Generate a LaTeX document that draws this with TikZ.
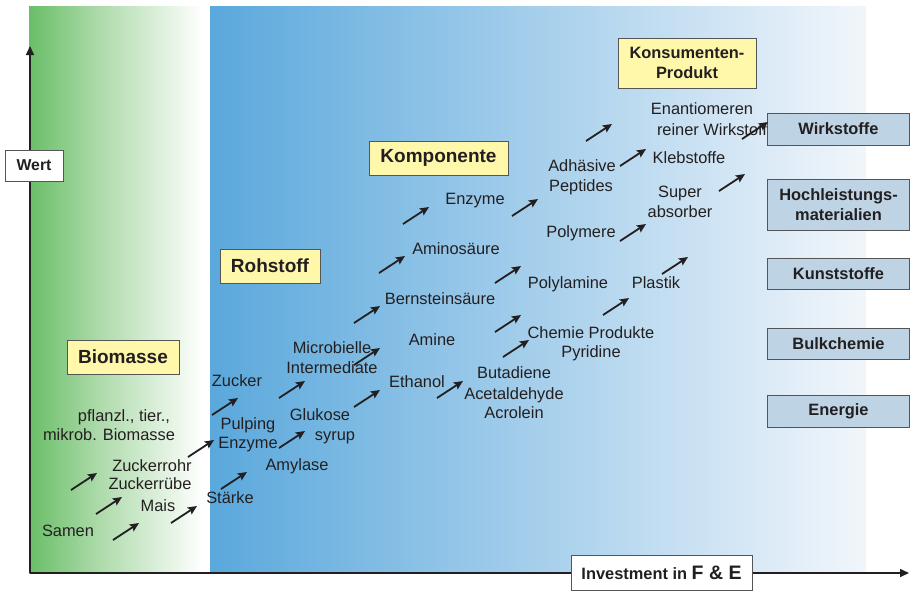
\documentclass[tikz,border=0pt]{standalone}
\usepackage{fontspec}
\setmainfont{Liberation Sans}
\usetikzlibrary{arrows.meta}
\definecolor{gA}{RGB}{106,190,104}
\definecolor{gB}{RGB}{172,218,169}
\definecolor{bA}{RGB}{90,168,220}
\definecolor{bB}{RGB}{242,246,251}
\definecolor{ylw}{RGB}{255,247,170}
\definecolor{rbx}{RGB}{190,212,228}
\definecolor{brd}{RGB}{85,85,85}
\definecolor{tc}{RGB}{35,31,32}
\begin{document}
\begin{tikzpicture}[x=1pt,y=-1pt,
  t/.style={anchor=base, inner sep=0pt, text=tc, font=\fontsize{16.4}{20}\selectfont},
  ybox/.style={draw=brd, line width=0.9pt, fill=ylw, text=tc, inner sep=0pt, align=center},
  rbox/.style={draw=brd, line width=0.9pt, fill=rbx, text=tc, inner sep=0pt, align=center,
    minimum width=142pt, font=\bfseries\fontsize{16.4}{20}\selectfont},
  wbox/.style={draw=brd, line width=0.9pt, fill=white, text=tc, inner sep=0pt},
  axisline/.style={draw=tc, line width=1.5pt, -{Triangle[length=9pt,width=8pt]}},
  sarr/.style={draw=tc, line width=1.8pt, -{Stealth[length=9pt,width=8pt,inset=1.5pt]}}
]
\useasboundingbox (0,0) rectangle (910,590);
\fill[white] (0,0) rectangle (910,590);
% background panels
\shade[left color=gA, right color=gB] (29,6) rectangle (98,573);
\shade[left color=gB, right color=white] (97.5,6) rectangle (203,573);
\shade[left color=bA, right color=bB] (210,6) rectangle (866,573);
% axes
\coordinate (o) at (30,573);
\coordinate (ytip) at (30,46);
\coordinate (xtip) at (909,573);
\draw[axisline] (o) -- (ytip);
\draw[axisline] (o) -- (xtip);
\node[wbox, minimum width=58pt, minimum height=31pt, font=\bfseries\fontsize{15.8}{18}\selectfont] (wert) at (34,165.5) {Wert};
\node[wbox, minimum width=181pt, minimum height=35pt, font=\bfseries\fontsize{16.4}{20}\selectfont] (inv) at (661.5,572.5) {Investment in {\fontsize{19.5}{22}\selectfont F \& E}};
% stage boxes
\node[ybox, minimum width=112pt, minimum height=34pt, font=\bfseries\fontsize{19}{22}\selectfont] (biomasse) at (123,357) {Biomasse};
\node[ybox, minimum width=100pt, minimum height=34pt, font=\bfseries\fontsize{19}{22}\selectfont] (rohstoff) at (270,266) {Rohstoff};
\node[ybox, minimum width=139pt, minimum height=34pt, font=\bfseries\fontsize{19}{22}\selectfont] (komponente) at (438.5,158) {Komponente};
\node[ybox, minimum width=138pt, minimum height=50pt, font=\bfseries\fontsize{16.4}{20}\selectfont] (konsument) at (687,63) {Konsumenten-\\Produkt};
% right boxes
\node[rbox, minimum height=32pt] (wirkstoffe) at (838.5,129) {Wirkstoffe};
\node[rbox, minimum height=51pt] (hochl) at (838.5,204.5) {Hochleistungs-\\materialien};
\node[rbox, minimum height=31pt] (kunst) at (838.5,273.5) {Kunststoffe};
\node[rbox, minimum height=31pt] (bulk) at (838.5,343.5) {Bulkchemie};
\node[rbox, minimum height=32pt] (energie) at (838.5,411) {Energie};
% arrows
\foreach \p in {(71,490),(96,514),(113,540),(171,523),(188,457),(212,415),(221,489),
  (279,398),(279,448),(354,407),(354,365),(354,323),(379,273),(403,224),(437,398),
  (495,283),(495,332),(503,357),(512,216),(586,141),(603,315),(620,166),(620,241),
  (662,274),(719,191),(742,139)}
  \draw[sarr] \p -- ++(26,-17);
% texts
\node[t] (pfl) at (124,421) {pflanzl., tier.,};
\node[t] (mikrob) at (109,440) {mikrob. Biomasse};
\node[t] (zrohr) at (152,471) {Zuckerrohr};
\node[t] (zruebe) at (150,489.5) {Zuckerrübe};
\node[t] (mais) at (158,511) {Mais};
\node[t] (samen) at (68,536) {Samen};
\node[t] (zucker) at (237,386) {Zucker};
\node[t] (pulping) at (248,429) {Pulping};
\node[t] (enzymeA) at (248,448) {Enzyme};
\node[t] (staerke) at (230,503) {Stärke};
\node[t] (amylase) at (297,470) {Amylase};
\node[t] (glukose) at (320,420) {Glukose};
\node[t] (syrup) at (335,440) {syrup};
\node[t] (microb) at (332,353) {Microbielle};
\node[t] (interm) at (332,373) {Intermediate};
\node[t] (ethanol) at (417,387) {Ethanol};
\node[t] (amine) at (432,345) {Amine};
\node[t] (bernstein) at (440,304) {Bernsteinsäure};
\node[t] (aminos) at (456,254) {Aminosäure};
\node[t] (enzymeB) at (475,204) {Enzyme};
\node[t] (adh) at (582,171) {Adhäsive};
\node[t] (pept) at (581,191) {Peptides};
\node[t] (polymere) at (581,237) {Polymere};
\node[t] (polylamine) at (568,288) {Polylamine};
\node[t] (plastik) at (656,288) {Plastik};
\node[t] (chemie) at (591,338) {Chemie Produkte};
\node[t] (pyridine) at (591,357) {Pyridine};
\node[t] (butadiene) at (514,378) {Butadiene};
\node[t] (acetal) at (514,399) {Acetaldehyde};
\node[t] (acrolein) at (514,418) {Acrolein};
\node[t] (enantio) at (702,114) {Enantiomeren};
\node[t] (reiner) at (712,135) {reiner Wirkstoff};
\node[t] (kleb) at (689,163) {Klebstoffe};
\node[t] (super) at (680,197) {Super};
\node[t] (absorber) at (680,217) {absorber};
\end{tikzpicture}
\end{document}
